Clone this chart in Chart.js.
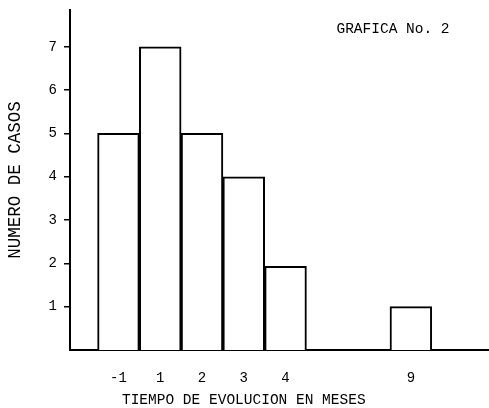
<!DOCTYPE html>
<html>
<head>
<meta charset="utf-8">
<script src="https://cdn.jsdelivr.net/npm/chart.js@4"></script>
<style>
  html, body { margin: 0; padding: 0; background: #fff; }
  #wrap { width: 489px; height: 408px; }
</style>
</head>
<body>
<div id="wrap"><canvas id="c" width="489" height="408"></canvas></div>
<script>
const categories = ["-1", "1", "2", "3", "4", "9"];
const slots = [0, 1, 2, 3, 4, 7];
const counts = [5, 7, 5, 4, 1.93, 1];
const yTicks = [1, 2, 3, 4, 5, 6, 7];
const chartTitle = "GRAFICA No. 2";
const xTitle = "TIEMPO DE EVOLUCION EN MESES";
const yTitle = "NUMERO DE CASOS";

const FONT = "'Liberation Mono', 'DejaVu Sans Mono', monospace";

const textPlugin = {
  id: 'texts',
  afterDraw(chart) {
    const ctx = chart.ctx;
    const xs = chart.scales.x;
    ctx.save();
    ctx.fillStyle = '#000';
    ctx.font = "14.5px " + FONT;
    ctx.textAlign = 'center';
    ctx.textBaseline = 'middle';
    ctx.fillText(chartTitle, 393, 29);
    ctx.fillText(xTitle, xs.getPixelForValue(3), 400);
    ctx.restore();
  }
};

new Chart(document.getElementById('c'), {
  type: 'bar',
  data: {
    datasets: [{
      data: slots.map((s, i) => ({ x: s, y: counts[i] })),
      backgroundColor: '#ffffff',
      borderColor: '#000000',
      borderWidth: 2,
      categoryPercentage: 1,
      barPercentage: 1
    }]
  },
  options: {
    responsive: false,
    animation: false,
    devicePixelRatio: 1,
    layout: { padding: { top: 10, left: 0, right: 0, bottom: 0 } },
    plugins: { legend: { display: false }, tooltip: { enabled: false }, title: { display: false } },
    scales: {
      x: {
        type: 'linear',
        offset: false,
        min: -1.16,
        max: 8.87,
        grid: { display: false, offset: false, drawTicks: false },
        border: { display: true, color: '#000', width: 2 },
        afterBuildTicks: (scale) => { scale.ticks = slots.map(v => ({ value: v })); },
        afterFit: (scale) => { scale.height = 58; scale.paddingLeft = 0; scale.paddingRight = 0; },
        ticks: {
          autoSkip: false,
          maxRotation: 0,
          padding: 20,
          color: '#000',
          font: { family: FONT, size: 14 },
          callback: (value) => { const i = slots.indexOf(value); return i >= 0 ? categories[i] : ''; }
        }
      },
      y: {
        min: 0,
        max: 7.85,
        grid: { display: true, drawOnChartArea: false, drawTicks: true, tickLength: 6, color: '#000', lineWidth: 1.5 },
        border: { display: true, color: '#000', width: 2 },
        afterBuildTicks: (scale) => { scale.ticks = yTicks.map(v => ({ value: v })); },
        afterFit: (scale) => { scale.width = 70; scale.paddingTop = 0; scale.paddingBottom = 0; },
        title: {
          display: true,
          text: yTitle,
          color: '#000',
          font: { family: FONT, size: 17.5 },
          padding: { top: 5, bottom: 0 }
        },
        ticks: {
          padding: 7,
          color: '#000',
          font: { family: FONT, size: 14 }
        }
      }
    }
  },
  plugins: [textPlugin]
});
</script>
</body>
</html>
